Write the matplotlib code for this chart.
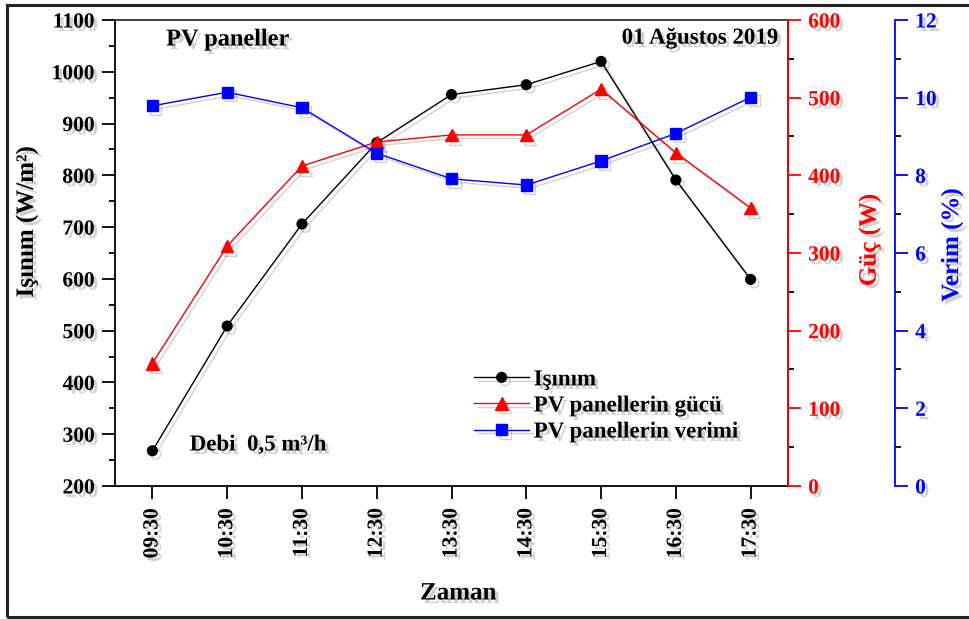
import numpy as np
import matplotlib
matplotlib.use("Agg")
import matplotlib.pyplot as plt
import matplotlib.patheffects as pe
from matplotlib.ticker import MultipleLocator

plt.rcParams['font.family'] = ['Liberation Serif', 'DejaVu Serif']
plt.rcParams['font.weight'] = 'bold'

# Ölçüm saatleri ve değerler
saatler = ['09:30', '10:30', '11:30', '12:30', '13:30', '14:30', '15:30', '16:30', '17:30']
isinim = [268, 509, 706, 863, 956, 975, 1020, 791, 599]        # W/m2
guc = [158, 309, 412, 443, 452, 452, 511, 429, 358]              # W
verim = [9.79, 10.14, 9.74, 8.57, 7.91, 7.75, 8.37, 9.08, 10.01]  # %

x = np.arange(len(saatler))

golge_cizgi = [pe.SimpleLineShadow(offset=(2.5, -2.5), alpha=0.18, shadow_color='k'), pe.Normal()]
golge_yazi = [pe.withSimplePatchShadow(offset=(2.5, -2.5), alpha=0.18, shadow_rgbFace='k')]

fig = plt.figure(figsize=(9.69, 6.19), dpi=100)
ax = fig.add_axes([0.1187, 0.2149, 0.6945, 0.7528])
ax2 = ax.twinx()
ax3 = ax.twinx()
ax3.spines['right'].set_position(('axes', 1.159))

# dış çerçeve
fig.patches.append(plt.Rectangle((0.007, 0.003), 1.2, 0.989, transform=fig.transFigure,
                                 fill=False, edgecolor='#222222', linewidth=2.2))

l1, = ax.plot(x, isinim, color='black', lw=1.0, marker='o', ms=7, label='Işınım', zorder=3)
l2, = ax2.plot(x, guc, color='red', lw=1.0, marker='^', ms=9, label='PV panellerin gücü', zorder=3)
l3, = ax3.plot(x, verim, color='blue', lw=1.0, marker='s', ms=8, label='PV panellerin verimi', zorder=3)
for l in (l1, l2, l3):
    l.set_path_effects(golge_cizgi)

ax.set_xlim(-0.5, 8.5)
ax.set_ylim(200, 1100)
ax2.set_ylim(0, 600)
ax3.set_ylim(0, 12)

ax.set_xticks(x)
ax.set_xticklabels(saatler, rotation=90)
ax.yaxis.set_major_locator(MultipleLocator(100))
ax.yaxis.set_minor_locator(MultipleLocator(50))
ax2.yaxis.set_major_locator(MultipleLocator(100))
ax2.yaxis.set_minor_locator(MultipleLocator(50))
ax3.yaxis.set_major_locator(MultipleLocator(2))
ax3.yaxis.set_minor_locator(MultipleLocator(1))

for a in (ax, ax2, ax3):
    for s in a.spines.values():
        s.set_linewidth(1.3)
    a.tick_params(which='major', length=9.5, width=1.3, labelsize=15.5, direction='out', pad=5)
    a.tick_params(which='minor', length=4.5, width=1.3, direction='out')

ax.tick_params(axis='x', pad=6.5)
ax.spines['top'].set_color('#333333')
ax2.spines['right'].set_color('red')
ax2.tick_params(axis='y', colors='red')
ax3.spines['right'].set_color('blue')
ax3.tick_params(axis='y', colors='blue')
for a in (ax2, ax3):
    a.spines['left'].set_visible(False)
    a.spines['top'].set_visible(False)
    a.spines['bottom'].set_visible(False)

ax.set_xlabel('Zaman', fontsize=18, fontweight='bold')
ax.xaxis.set_label_coords(0.51, -0.205)
ax.set_ylabel('Işınım (W/m²)', fontsize=18, fontweight='bold')
ax.yaxis.set_label_coords(-0.114, 0.567)
ax2.set_ylabel('Güç (W)', fontsize=18, fontweight='bold', color='red')
ax2.yaxis.set_label_coords(1.104, 0.528)
ax3.set_ylabel('Verim (%)', fontsize=18, fontweight='bold', color='blue')
ax3.yaxis.set_label_coords(1.226, 0.517)

ax.text(0.076, 0.957, 'PV paneller', transform=ax.transAxes, fontsize=17.5,
        va='center', ha='left', path_effects=golge_yazi)
ax.text(0.985, 0.961, '01 Ağustos 2019', transform=ax.transAxes, fontsize=16.5,
        va='center', ha='right', path_effects=golge_yazi)
ax.text(0.111, 0.088, 'Debi  0,5 m³/h', transform=ax.transAxes, fontsize=16.5,
        va='center', ha='left', path_effects=golge_yazi)

leg = ax.legend(handles=[l1, l2, l3], loc='upper left', bbox_to_anchor=(0.52, 0.27),
                frameon=False, fontsize=16.5, handlelength=2.4, handletextpad=0.2,
                labelspacing=0.22, borderaxespad=0)
for t in leg.get_texts():
    t.set_path_effects(golge_yazi)

for a in (ax, ax2, ax3):
    for t in a.get_yticklabels() + a.get_xticklabels():
        t.set_path_effects(golge_yazi)
for lab in (ax.xaxis.label, ax.yaxis.label, ax2.yaxis.label, ax3.yaxis.label):
    lab.set_path_effects(golge_yazi)

fig.savefig('out.png', dpi=100)
